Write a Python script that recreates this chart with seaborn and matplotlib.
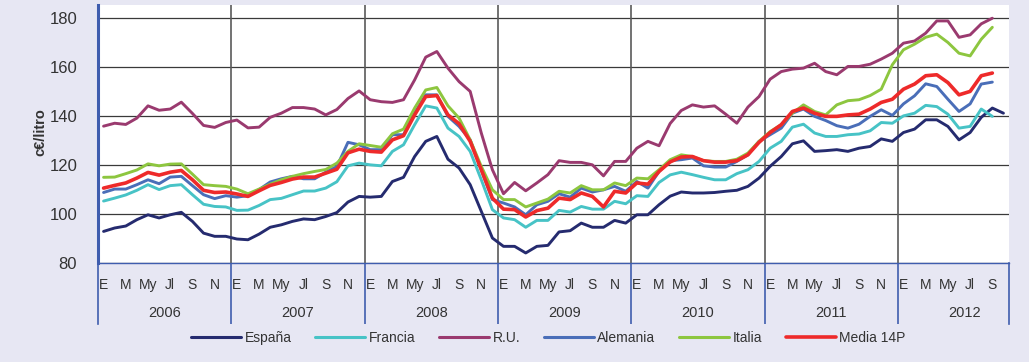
import matplotlib
matplotlib.use("Agg")
import matplotlib.pyplot as plt
from matplotlib.lines import Line2D
import numpy as np
import pandas as pd
import seaborn as sns

# Monthly fuel prices, c€/litro, January 2006 onwards
espana = [92.9, 94.3, 95.1, 97.7, 99.7, 98.4, 99.7, 100.7, 97.0, 92.2, 90.9, 90.9,
          89.8, 89.5, 91.8, 94.6, 95.6, 97.0, 98.0, 97.7, 99.0, 100.6, 104.9, 107.2,
          106.9, 107.2, 113.3, 115.0, 123.5, 129.7, 131.7, 122.4, 118.8, 112.0, 101.1, 90.2,
          86.8, 86.8, 84.1, 86.8, 87.2, 92.7, 93.2, 96.3, 94.6, 94.6, 97.4, 96.3,
          99.7, 99.7, 103.8, 107.3, 109.0, 108.6, 108.6, 108.8, 109.3, 109.7, 111.3, 114.7,
          119.5, 123.5, 128.7, 129.9, 125.6, 125.9, 126.3, 125.6, 126.9, 127.6, 130.7, 129.7,
          133.3, 134.7, 138.5, 138.5, 135.8, 130.3, 133.3, 139.5, 143.3, 141.2]
francia = [105.3, 106.5, 107.8, 109.7, 112.0, 110.0, 111.6, 112.0, 107.9, 104.0, 103.1, 102.9,
           101.5, 101.6, 103.5, 105.9, 106.4, 107.9, 109.4, 109.4, 110.6, 113.2, 119.7, 120.8,
           120.1, 119.7, 125.6, 128.3, 136.5, 144.2, 143.3, 135.1, 131.7, 125.6, 114.0, 101.8,
           98.4, 97.7, 94.6, 97.4, 97.4, 101.5, 100.8, 103.1, 102.0, 102.0, 105.2, 104.2,
           107.5, 107.2, 112.9, 116.0, 117.1, 116.1, 115.0, 114.0, 114.0, 116.5, 118.1, 121.5,
           126.9, 129.7, 135.5, 136.7, 133.1, 131.7, 131.7, 132.4, 132.7, 134.0, 137.4, 137.1,
           140.1, 141.2, 144.4, 143.9, 140.8, 135.1, 135.8, 142.9, 139.9]
reino_unido = [135.9, 137.1, 136.6, 139.2, 144.2, 142.4, 142.9, 145.7, 141.1, 136.2, 135.4, 137.4,
               138.4, 135.2, 135.5, 139.5, 141.2, 143.5, 143.5, 142.9, 140.5, 142.7, 147.2, 150.3,
               146.7, 145.9, 145.6, 146.7, 154.8, 164.1, 166.4, 159.6, 154.1, 150.1, 133.1, 118.1,
               108.3, 112.9, 109.5, 112.7, 116.1, 121.8, 121.1, 121.1, 120.1, 115.6, 121.5, 121.5,
               126.9, 129.7, 127.9, 137.0, 142.3, 144.6, 143.7, 144.2, 140.8, 137.1, 143.7, 148.0,
               155.1, 158.2, 159.2, 159.6, 161.6, 158.2, 156.9, 160.3, 160.3, 161.2, 163.3, 165.7,
               169.8, 170.7, 173.9, 178.9, 178.9, 172.2, 173.2, 177.7, 180.0]
alemania = [108.8, 110.2, 110.2, 112.0, 114.0, 112.4, 115.1, 115.4, 111.6, 107.9, 106.3, 107.5,
            106.9, 107.5, 110.0, 113.1, 114.4, 115.4, 114.4, 114.4, 117.1, 119.4, 129.3, 128.3,
            126.3, 126.3, 132.4, 132.4, 141.2, 148.7, 148.7, 139.9, 135.8, 130.3, 118.1, 105.9,
            104.5, 102.9, 99.7, 103.8, 105.2, 108.3, 106.9, 110.6, 109.0, 109.9, 111.3, 109.3,
            113.3, 110.6, 117.4, 121.8, 122.2, 122.9, 119.7, 119.2, 119.2, 121.5, 124.2, 129.7,
            132.4, 135.1, 141.2, 142.9, 139.9, 138.2, 136.1, 135.1, 136.7, 139.9, 142.6, 140.3,
            145.0, 148.3, 153.2, 152.1, 146.9, 141.9, 145.0, 153.1, 153.9]
italia = [115.0, 115.1, 116.5, 118.0, 120.5, 119.7, 120.4, 120.5, 116.3, 112.0, 111.6, 111.3,
          110.2, 108.3, 110.2, 112.2, 114.0, 115.4, 116.5, 117.4, 118.2, 120.8, 125.6, 128.7,
          128.0, 127.3, 132.8, 134.7, 143.3, 150.7, 151.7, 144.2, 139.2, 130.3, 119.5, 109.9,
          105.9, 105.9, 102.9, 104.5, 106.1, 109.3, 108.6, 111.6, 109.9, 109.9, 112.7, 111.6,
          114.7, 114.4, 118.1, 122.2, 124.2, 123.5, 121.8, 121.5, 121.5, 122.4, 124.9, 129.7,
          133.7, 136.5, 141.2, 144.6, 141.9, 140.5, 144.6, 146.3, 146.7, 148.4, 151.0, 161.0,
          167.1, 169.4, 172.2, 173.5, 170.1, 165.7, 164.6, 171.4, 176.3]
media_14p = [110.6, 111.7, 112.7, 114.7, 117.0, 115.9, 117.1, 117.8, 114.0, 109.7, 108.8, 109.0,
             108.2, 107.2, 109.5, 111.7, 112.9, 114.3, 115.1, 115.1, 116.7, 118.3, 125.0, 126.5,
             125.6, 125.3, 130.3, 132.0, 140.5, 148.0, 148.4, 140.5, 136.9, 129.7, 118.1, 106.5,
             102.0, 101.8, 98.8, 101.4, 102.4, 106.5, 105.9, 108.6, 107.2, 102.9, 109.3, 108.6,
             112.7, 112.2, 117.4, 121.3, 123.3, 123.5, 121.8, 121.2, 121.2, 121.8, 124.2, 129.3,
             133.3, 136.5, 141.9, 143.3, 141.2, 139.9, 139.9, 140.5, 140.8, 142.9, 145.6, 146.9,
             151.0, 153.1, 156.5, 156.9, 153.7, 148.7, 150.1, 156.5, 157.6]

series_names = ["España", "Francia", "R.U.", "Alemania", "Italia", "Media 14P"]
series_values = [espana, francia, reino_unido, alemania, italia, media_14p]
series_colors = ["#252B6F", "#47C3C6", "#9A3A6F", "#4A6EB8", "#8DC63F", "#EE2A2A"]

years = ["2006", "2007", "2008", "2009", "2010", "2011", "2012"]
month_labels = ["E", "M", "My", "Jl", "S", "N"]
n_months = 82

# long-form table for seaborn
frames = []
for name, vals in zip(series_names, series_values):
    frames.append(pd.DataFrame({"mes": np.arange(len(vals)), "valor": vals, "serie": name}))
df = pd.concat(frames, ignore_index=True)

sns.set_style("white")
FAM = ["Liberation Sans", "DejaVu Sans"]
plt.rcParams["font.family"] = FAM

BG = "#E7E7F3"
AXBLUE = "#3F5DAE"
TXT = "#333333"
W, H = 1029, 362

fig = plt.figure(figsize=(W / 100, H / 100), dpi=100, facecolor=BG)
ax = fig.add_axes([98 / W, (H - 263) / H, 911 / W, 258 / H])
ax.set_facecolor("white")

sns.lineplot(data=df, x="mes", y="valor", hue="serie", hue_order=series_names,
             palette=dict(zip(series_names, series_colors)), estimator=None,
             linewidth=2.1, legend=False, ax=ax, zorder=3)
for ln, name in zip(ax.lines, series_names):
    ln.set_solid_joinstyle("round")
    if name == "Media 14P":
        ln.set_linewidth(2.6)

ax.set_xlim(-0.5, n_months - 0.5)
ax.set_ylim(80, 185.4)
ax.set_yticks(range(80, 181, 20))
ax.set_xticks([])
ax.set_xlabel("")
ax.set_ylabel("")
ax.yaxis.grid(True, color="#3A3A3A", linewidth=0.9)
ax.set_axisbelow(True)
for k in range(1, len(years)):
    ax.axvline(12 * k - 0.5, color="#5A5A5A", linewidth=1.2, zorder=1)

for s in ["top", "right"]:
    ax.spines[s].set_visible(False)
ax.spines["left"].set_color(AXBLUE)
ax.spines["left"].set_linewidth(2.2)
ax.spines["bottom"].set_color(AXBLUE)
ax.spines["bottom"].set_linewidth(1.0)
ax.tick_params(axis="y", direction="out", length=7, width=2, color=AXBLUE,
               pad=8, labelsize=12, labelcolor=TXT)

# band with months and years under the plot
ax2 = fig.add_axes([98 / W, (H - 324) / H, 911 / W, 61 / H])
ax2.set_facecolor("none")
ax2.set_xlim(-0.5, n_months - 0.5)
ax2.set_ylim(0, 1)
ax2.set_xticks([])
ax2.set_yticks([])
ax2.spines["bottom"].set_visible(False)
ax2.spines["top"].set_visible(False)
for s in ["left", "right"]:
    ax2.spines[s].set_color(AXBLUE)
    ax2.spines[s].set_linewidth(1.2)
for k in range(1, len(years)):
    ax2.axvline(12 * k - 0.5, color=AXBLUE, linewidth=1.2)
for k, yr in enumerate(years):
    for j, m in enumerate(month_labels):
        pos = 12 * k + 2 * j
        if pos < n_months:
            ax2.text(pos, 0.64, m, ha="center", va="center", fontsize=10, color=TXT)
    ax2.text(12 * k + 5.5, 0.18, yr, ha="center", va="center", fontsize=10.5, color=TXT)

fig.text(40 / W, 1 - 132 / H, "c€/litro", rotation=90, ha="center", va="center",
         fontsize=10.5, fontweight="bold", color=TXT)

handles = [Line2D([0], [0], color=c, linewidth=2.6 if n == "Media 14P" else 2.2)
           for n, c in zip(series_names, series_colors)]
fig.legend(handles, series_names, loc="center", bbox_to_anchor=(0.533, 1 - 338 / H),
           ncol=6, frameon=False, fontsize=10, handlelength=3.6, handletextpad=0.25,
           columnspacing=1.7, labelcolor=TXT)

fig.savefig("out.png", dpi=100, facecolor=BG)
